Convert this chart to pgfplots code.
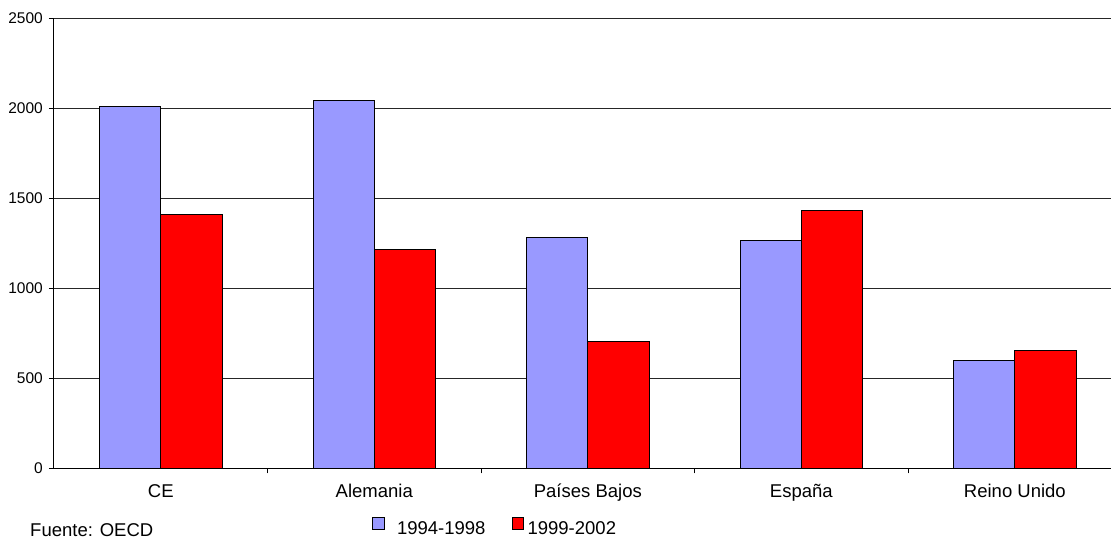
\documentclass[border=0pt]{standalone}
\usepackage{fontspec}
\setmainfont{Liberation Sans}
\usepackage{pgfplots}
\pgfplotsset{compat=1.18}
\definecolor{cblue}{RGB}{153,153,255}
\definecolor{cred}{RGB}{255,0,0}
\begin{document}
\begin{tikzpicture}
\useasboundingbox (0,0) rectangle (1111pt,539pt);
\begin{axis}[
  at={(54pt,70.7pt)}, anchor=south west,
  scale only axis, width=1057pt, height=450pt,
  xmin=-0.5, xmax=4.45, ymin=0, ymax=2500,
  axis x line*=bottom, axis y line*=left,
  axis line style={black, line width=1pt},
  ybar=0pt, bar width=61.3pt,
  xtick={0,1,2,3,4},
  xticklabels={CE, Alemania, Países Bajos, España, Reino Unido},
  minor xtick={0.5,1.5,2.5,3.5},
  major x tick style={draw=none},
  ytick={0,500,1000,1500,2000,2500},
  tick align=outside, major tick length=5pt, minor tick length=5pt,
  tick style={black, line width=0.8pt},
  ymajorgrids, major grid style={black!85, line width=0.8pt},
  /pgf/number format/assume math mode=true,
  /pgf/number format/1000 sep={},
  yticklabel style={font=\fontsize{15.5}{18}\selectfont, inner sep=0pt, xshift=-6pt},
  xticklabel style={font=\fontsize{18.5}{22}\selectfont, inner sep=0pt, anchor=base, yshift=-24pt},
  legend image code/.code={\draw[line width=0.8pt, draw=black] (0pt,0pt) rectangle (11.6pt,11.6pt);},
  legend style={draw=none, fill=none, legend columns=-1,
    at={(axis description cs:0.3006,-0.1298)}, anchor=west,
    inner sep=0pt, font=\fontsize{18.5}{22}\selectfont,
    nodes={inner sep=0pt},
    /tikz/column 1/.style={column sep=12.7pt},
    /tikz/column 2/.style={column sep=26pt},
    /tikz/column 3/.style={column sep=3.7pt}},
]
\addplot[fill=cblue, draw=black, line width=1pt] coordinates {(0,2011) (1,2042) (2,1281) (3,1268) (4,600)};
\addplot[fill=cred, draw=black, line width=1pt] coordinates {(0,1411) (1,1213) (2,707) (3,1435) (4,652)};
\legend{1994-1998, 1999-2002}
\end{axis}
\node[anchor=base west, font=\fontsize{18.5}{22}\selectfont, inner sep=0pt] at (30pt,2.5pt) {Fuente: OECD};
\end{tikzpicture}
\end{document}
